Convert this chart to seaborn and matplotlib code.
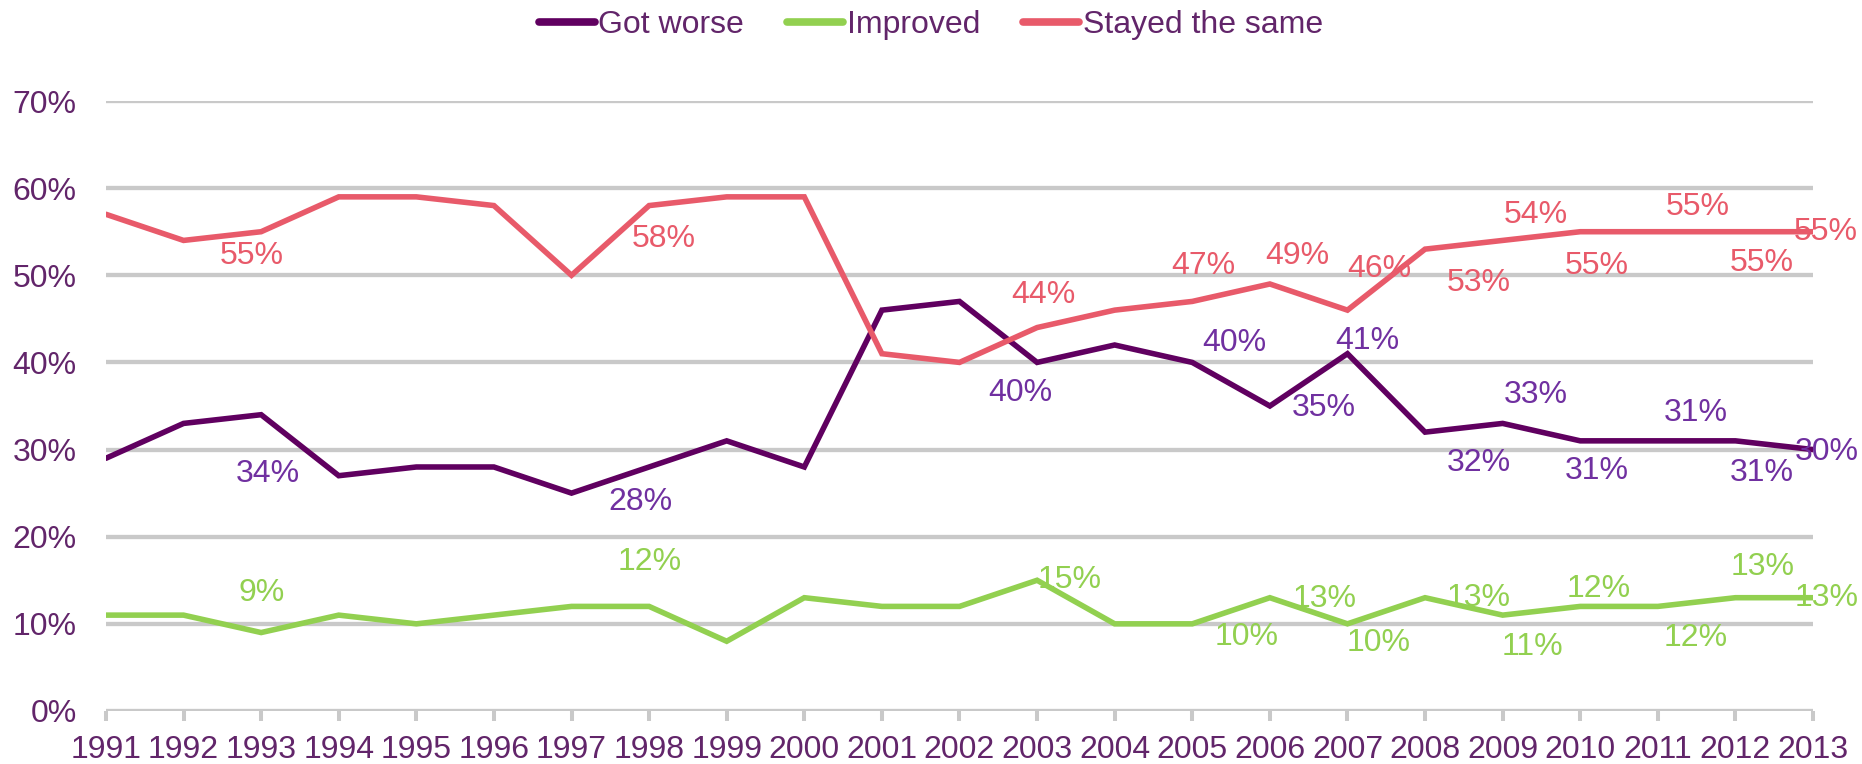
import pandas as pd
import matplotlib
matplotlib.use("Agg")
import matplotlib.pyplot as plt
import seaborn as sns

# data (percent)
years = list(range(1991, 2014))
got_worse = [29, 33, 34, 27, 28, 28, 25, 28, 31, 28, 46, 47, 40, 42, 40, 35, 41, 32, 33, 31, 31, 31, 30]
improved = [11, 11, 9, 11, 10, 11, 12, 12, 8, 13, 12, 12, 15, 10, 10, 13, 10, 13, 11, 12, 12, 13, 13]
stayed_same = [57, 54, 55, 59, 59, 58, 50, 58, 59, 59, 41, 40, 44, 46, 47, 49, 46, 53, 54, 55, 55, 55, 55]
series_names = ["Got worse", "Improved", "Stayed the same"]

# years that carry a data label
label_years = [1993, 1998, 2003, 2005, 2006, 2007, 2008, 2009, 2010, 2011, 2012, 2013]

# label offsets in pixels (dx, dy up), one per labelled year
worse_offsets = [(7, -59), (-9, -35), (-17, -31), (42, 19), (54, -2), (20, 13),
                 (54, -31), (33, 28), (17, -30), (38, 28), (26, -32), (14, -2)]
improved_offsets = [(0, 40), (1, 44), (33, 0), (54, -13), (55, -1), (31, -19),
                    (54, 0), (30, -32), (18, 17), (38, -32), (27, 31), (14, 0)]
stayed_offsets = [(-9, -24), (15, -33), (6, 33), (11, 35), (27, 28), (32, 41),
                  (54, -34), (33, 25), (17, -34), (40, 25), (26, -31), (13, 0)]

line_colors = {"Got worse": "#600060", "Improved": "#92D050", "Stayed the same": "#E85A6A"}
label_colors = {"Got worse": "#7030A0", "Improved": "#92D050", "Stayed the same": "#E85A6A"}
text_color = "#62256A"
grid_color = "#C9C9C9"
fsize = 23

df = pd.DataFrame({
    "Year": years * 3,
    "Value": got_worse + improved + stayed_same,
    "Series": [s for s in series_names for _ in years],
})

sns.set_theme(style="white")
plt.rcParams["font.family"] = ["Liberation Sans", "DejaVu Sans"]

fig = plt.figure(figsize=(18.62, 7.64), dpi=100)
ax = fig.add_axes([0.0569, 0.0694, 0.9168, 0.7984])

sns.lineplot(
    data=df,
    x="Year",
    y="Value",
    hue="Series",
    hue_order=series_names,
    palette=line_colors,
    linewidth=4.0,
    ax=ax,
)

for line in ax.get_lines():
    line.set_solid_joinstyle("miter")
    line.set_zorder(3)

# data labels
series_values = {"Got worse": got_worse, "Improved": improved, "Stayed the same": stayed_same}
series_offsets = {"Got worse": worse_offsets, "Improved": improved_offsets, "Stayed the same": stayed_offsets}
for name in series_names:
    for yr, (dx, dy) in zip(label_years, series_offsets[name]):
        v = series_values[name][years.index(yr)]
        ax.annotate(
            f"{v}%",
            xy=(yr, v),
            xytext=(dx, dy),
            textcoords="offset pixels",
            ha="center",
            va="center",
            fontsize=fsize,
            color=label_colors[name],
            zorder=5,
            annotation_clip=False,
        )

ax.set_xlim(1991, 2013)
ax.set_ylim(0, 70)
ax.set_xticks(years)
ax.set_xticklabels([str(y) for y in years])
ax.set_yticks(range(0, 71, 10))
ax.set_yticklabels([f"{t}%" for t in range(0, 71, 10)])
ax.set_xlabel("")
ax.set_ylabel("")

ax.yaxis.grid(True, color=grid_color, linewidth=3.1)
ax.xaxis.grid(False)
ax.set_axisbelow(True)
for sp in ax.spines.values():
    sp.set_visible(False)

ax.tick_params(axis="y", length=0, pad=21, labelsize=fsize, labelcolor=text_color)
ax.tick_params(axis="x", direction="out", length=7, width=2.9, color=grid_color,
               pad=10, labelsize=fsize, labelcolor=text_color, bottom=True)

sns.move_legend(
    ax,
    "center",
    bbox_to_anchor=(0.4833, 1.124),
    ncol=3,
    frameon=False,
    title=None,
    fontsize=fsize,
    handlelength=1.75,
    handletextpad=0.12,
    columnspacing=1.35,
)
leg = ax.get_legend()
for txt in leg.get_texts():
    txt.set_color(text_color)
for h in leg.legend_handles:
    h.set_linewidth(5.5)
    h.set_solid_capstyle("round")

fig.savefig("out.png", dpi=100)
